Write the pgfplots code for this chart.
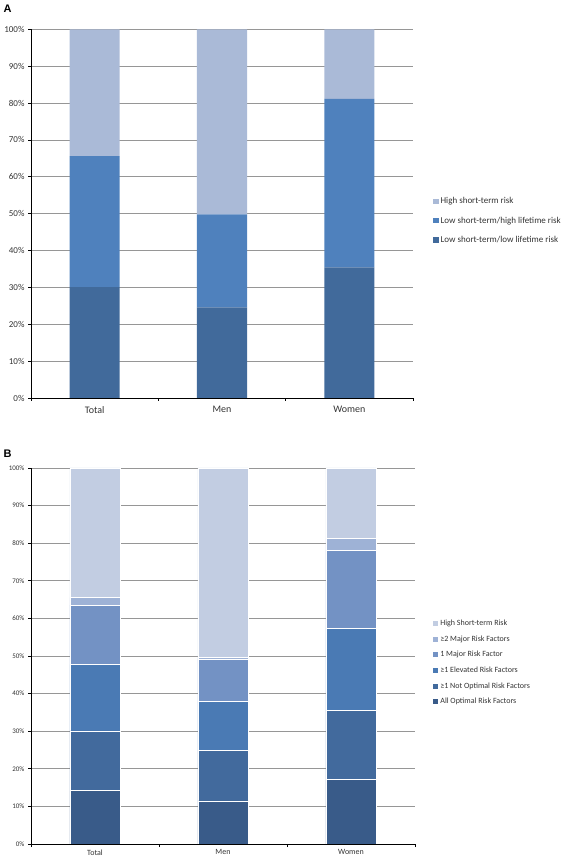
\documentclass[border=0pt]{standalone}
\usepackage{fontspec}
\setmainfont{Carlito}
\newfontfamily\arialfont{Liberation Sans}
\usepackage{pgfplots}
\pgfplotsset{compat=1.18}
\definecolor{aDark}{RGB}{65,106,155}
\definecolor{aMid}{RGB}{79,129,189}
\definecolor{aLight}{RGB}{170,186,215}
\definecolor{bOne}{RGB}{57,91,137}
\definecolor{bTwo}{RGB}{66,106,157}
\definecolor{bThree}{RGB}{74,122,180}
\definecolor{bFour}{RGB}{115,146,196}
\definecolor{bFive}{RGB}{158,178,214}
\definecolor{bSix}{RGB}{194,205,226}
\definecolor{gridgray}{RGB}{150,150,150}
\pgfplotsset{
  commonstyle/.style={
    scale only axis,
    anchor=south west,
    ybar stacked,
    bar width=0.393,
    xmin=-0.5, xmax=2.5, ymin=0, ymax=100,
    axis x line*=bottom, axis y line*=left,
    axis line style={-, black, line width=0.8pt},
    tick align=outside,
    xtick={-0.5,0.5,1.5,2.5}, xticklabels={},
    extra x ticks={0,1,2},
    extra x tick labels={Total,Men,Women},
    extra x tick style={major tick length=0pt},
    ytick={0,10,...,100},
    yticklabel={\pgfmathprintnumber{\tick}\%},
    /pgf/number format/assume math mode=true,
    ymajorgrids,
    grid style={gridgray, line width=0.6pt},
    tick style={black, line width=0.6pt},
    major tick length=3pt,
    legend cell align=left,
    reverse legend,
    legend image code/.code={\fill[#1,draw=none] (0pt,-2.6pt) rectangle (5.2pt,2.6pt);},
  }
}
\begin{document}
\begin{tikzpicture}
\path[use as bounding box] (0pt,0pt) rectangle (578pt,859pt);
\node[font=\arialfont\bfseries\fontsize{11}{12}\selectfont, anchor=west] at (0pt,850pt) {A};
\node[font=\arialfont\bfseries\fontsize{11}{12}\selectfont, anchor=west] at (0pt,405pt) {B};
% Panel A
\begin{axis}[commonstyle,
  at={(31pt,461pt)}, width=382pt, height=368.7pt,
  tick label style={font=\fontsize{9}{10}\selectfont, text=black!80},
  extra x tick style={major tick length=0pt, tick label style={font=\fontsize{10}{11}\selectfont, yshift=-5pt}},
  legend style={at={(1.045,0.555)}, anchor=north west, draw=none, fill=none,
    font=\fontsize{9}{10}\selectfont, row sep=7.5pt, text=black!80},
]
\addplot[fill=aDark, draw=none] coordinates {(0,30.1) (1,24.6) (2,35.4)};
\addlegendentry{Low short-term/low lifetime risk}
\addplot[fill=aMid, draw=none] coordinates {(0,35.5) (1,25.2) (2,45.7)};
\addlegendentry{Low short-term/high lifetime risk}
\addplot[fill=aLight, draw=none] coordinates {(0,34.4) (1,50.2) (2,18.9)};
\addlegendentry{High short-term risk}
\end{axis}
% Panel B
\begin{axis}[commonstyle,
  at={(31pt,15pt)}, width=384pt, height=376pt,
  tick label style={font=\fontsize{7}{8}\selectfont, text=black!80},
  extra x tick style={major tick length=0pt, tick label style={font=\fontsize{8}{9}\selectfont, yshift=-2pt}},
  legend style={at={(1.039,0.607)}, anchor=north west, draw=none, fill=none,
    font=\fontsize{8}{9}\selectfont, row sep=4.6pt, text=black!80},
  every axis plot/.append style={draw=white, line width=0.5pt},
]
\addplot[fill=bOne] coordinates {(0,14.2) (1,11.5) (2,17.1)};
\addlegendentry{All Optimal Risk Factors}
\addplot[fill=bTwo] coordinates {(0,15.9) (1,13.4) (2,18.5)};
\addlegendentry{≥1 Not Optimal Risk Factors}
\addplot[fill=bThree] coordinates {(0,17.7) (1,13.0) (2,21.8)};
\addlegendentry{≥1 Elevated Risk Factors}
\addplot[fill=bFour] coordinates {(0,15.7) (1,11.3) (2,20.7)};
\addlegendentry{1 Major Risk Factor}
\addplot[fill=bFive] coordinates {(0,2.1) (1,0.5) (2,3.2)};
\addlegendentry{≥2 Major Risk Factors}
\addplot[fill=bSix] coordinates {(0,34.4) (1,50.3) (2,18.7)};
\addlegendentry{High Short-term Risk}
\end{axis}
\end{tikzpicture}
\end{document}
